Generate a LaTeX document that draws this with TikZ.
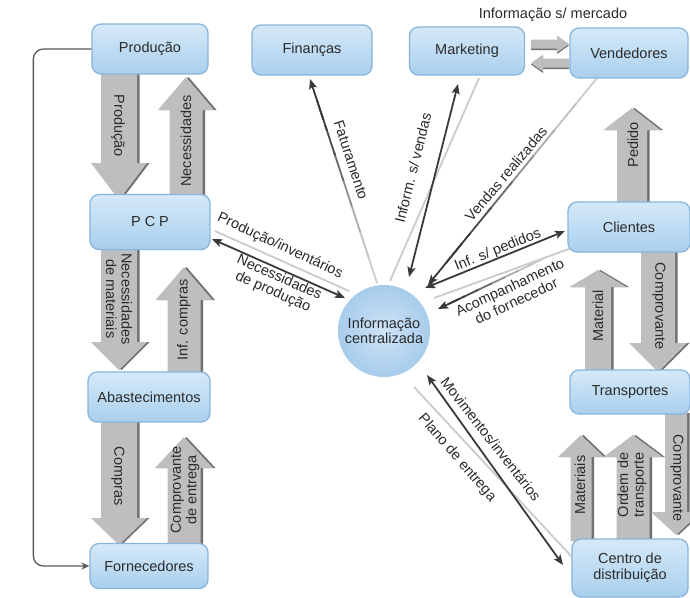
\documentclass[tikz,border=0pt]{standalone}
\usepackage{fontspec}
\setmainfont{Liberation Sans}
\usetikzlibrary{arrows.meta,calc}

\definecolor{boxtop}{HTML}{D5E9F8}
\definecolor{boxbot}{HTML}{A9CFEE}
\definecolor{boxedge}{HTML}{88B5DB}
\definecolor{circin}{HTML}{CFE4F6}
\definecolor{circout}{HTML}{A7CCEB}
\definecolor{arrfill}{HTML}{BEBEBE}
\definecolor{arrshade}{HTML}{707070}
\definecolor{linedark}{HTML}{3A3A3A}
\definecolor{linelight}{HTML}{CBCBCB}
\definecolor{txt}{HTML}{2B2B2B}

% vertical block arrow: centre x, tail y, head-base y, tip y, shaft half-width, head half-width
\newcommand\VArrow[6]{%
  \fill[arrshade] ({#1-#5+2.5},{#2}) -- ({#1-#5+2.5},{#3}) -- ({#1-#6+2.5},{#3}) -- ({#1+2.5},{#4}) --
    ({#1+#6+2.5},{#3}) -- ({#1+#5+2.5},{#3}) -- ({#1+#5+2.5},{#2}) -- cycle;
  \fill[arrfill] ({#1-#5},{#2}) -- ({#1-#5},{#3}) -- ({#1-#6},{#3}) -- ({#1},{#4}) --
    ({#1+#6},{#3}) -- ({#1+#5},{#3}) -- ({#1+#5},{#2}) -- cycle;
}
% horizontal block arrow: centre y, tail x, head-base x, tip x, shaft half-height, head half-height
\newcommand\HArrow[6]{%
  \fill[arrshade] ({#2},{#1-#5+1.5}) -- ({#3},{#1-#5+1.5}) -- ({#3},{#1-#6+1.5}) -- ({#4},{#1+1.5}) --
    ({#3},{#1+#6+1.5}) -- ({#3},{#1+#5+1.5}) -- ({#2},{#1+#5+1.5}) -- cycle;
  \fill[arrfill] ({#2},{#1-#5}) -- ({#3},{#1-#5}) -- ({#3},{#1-#6}) -- ({#4},{#1}) --
    ({#3},{#1+#6}) -- ({#3},{#1+#5}) -- ({#2},{#1+#5}) -- cycle;
}
% arrow that darkens from a pale tail to a dark head
\newcommand\FadeArrow[2]{%
  \foreach \i/\c in {0/20,1/24,2/32,3/44,4/58,5/70,6/76}{%
    \pgfmathsetmacro\fa{\i/8}%
    \pgfmathsetmacro\fb{(\i+1)/8+0.02}%
    \draw[line width=1.8pt, draw=black!\c] ($(#1)!\fa!(#2)$) -- ($(#1)!\fb!(#2)$);
  }%
  \draw[line width=1.8pt, draw=black!78, tip] ($(#1)!0.8!(#2)$) -- (#2);
}

\tikzset{
  box/.style={rounded corners=9pt, draw=boxedge, line width=1.3pt, top color=boxtop, bottom color=boxbot,
    minimum width=118pt, minimum height=50pt, align=center, text=txt},
  lbl/.style={text=txt, inner sep=1pt, align=center},
  tip/.style={-{Stealth[length=10pt,width=8pt,inset=2pt]}},
  tips/.style={{Stealth[length=10pt,width=8pt,inset=2pt]}-{Stealth[length=10pt,width=8pt,inset=2pt]}},
  darkline/.style={line width=1.8pt, draw=linedark},
  lightline/.style={line width=1.8pt, draw=linelight},
}

\begin{document}
\begin{tikzpicture}[x=1pt,y=-1pt, font=\fontsize{14.5}{15.5}\selectfont]
\useasboundingbox (0,0) rectangle (690,597);
\fill[white] (0,0) rectangle (690,597);

% end points of the radial connectors
\coordinate (fatTail) at (377,283);
\coordinate (fatHead) at (310,79);
\coordinate (mkA) at (458,84);
\coordinate (mkB) at (409,277);
\coordinate (mkL1) at (479,78);
\coordinate (mkL2) at (390,281);
\coordinate (vrTail) at (597,78);
\coordinate (vrHead) at (428,285);
\coordinate (pcA) at (212,239);
\coordinate (pcB) at (345,298);
\coordinate (pcL1) at (215,231);
\coordinate (pcL2) at (349,291);
\coordinate (clA) at (565,231);
\coordinate (clB) at (425,288);
\coordinate (clL1) at (577,246);
\coordinate (clL2) at (434,298);
\coordinate (acTail) at (545,258);
\coordinate (acHead) at (438,309);
\coordinate (cdA) at (427,375);
\coordinate (cdB) at (563,565);
\coordinate (cdL1) at (414,387);
\coordinate (cdL2) at (572,557);

% pale guide lines
\draw[lightline] (mkL1) -- (mkL2);
\draw[lightline] (pcL1) -- (pcL2);
\draw[lightline] (clL1) -- (clL2);
\draw[lightline] (cdL1) -- (cdL2);

% information flows
\FadeArrow{fatTail}{fatHead}
\FadeArrow{vrTail}{vrHead}
\FadeArrow{acTail}{acHead}
\draw[darkline, tips] (mkA) -- (mkB);
\draw[darkline, tips] (pcA) -- (pcB);
\draw[darkline, tips] (clA) -- (clB);
\draw[darkline, tips] (cdA) -- (cdB);

% material / document flows
\VArrow{119}{74}{163}{200}{18}{28}
\VArrow{186}{196}{110}{77}{16.5}{28}
\VArrow{119}{249}{342}{370}{18}{28}
\VArrow{184}{372}{300}{267}{16.5}{28.5}
\VArrow{119}{421}{518}{545}{18}{28}
\VArrow{184}{545}{468}{437}{16.5}{29}
\VArrow{632}{203}{130}{108}{15}{28.5}
\VArrow{598}{371}{287}{270}{13}{28.5}
\VArrow{658}{251}{343}{372}{17}{29}
\VArrow{581}{541}{457}{435}{10.5}{23}
\VArrow{633}{541}{457}{435}{16.5}{29.5}
\VArrow{676}{413}{512}{535}{11}{25}
\HArrow{44}{531}{557}{569}{4.5}{8.5}
\HArrow{63}{569}{543}{531}{4.5}{8.5}

% areas
\node[box, minimum width=116pt] (prod) at (150,49) {Produção};
\node[box, minimum width=120pt] (fin) at (312,50) {Finanças};
\node[box, minimum width=115pt, minimum height=48pt] (mkt) at (467,51) {Marketing};
\node[box, minimum width=118pt] (vend) at (629,53) {Vendedores};
\node[box, minimum width=120pt, minimum height=55pt] (pcp) at (150,222) {P\hspace{4pt}C\hspace{4pt}P};
\node[box, minimum width=122pt] (abast) at (149,397) {Abastecimentos};
\node[box, minimum height=45pt] (forn) at (149,566) {Fornecedores};
\node[box, minimum width=122pt] (cli) at (629,227) {Clientes};
\node[box, minimum width=120pt, minimum height=44pt] (transp) at (630,392) {Transportes};
\node[box, minimum width=116pt, minimum height=58pt] (cd) at (630,568) {Centro de\\distribuição};

\node[circle, minimum size=92pt, inner color=circin, outer color=circout, text=txt, align=center]
  (ctr) at (384,331) {Informação\\centralizada};

% production feeds the suppliers directly
\draw[line width=1.3pt, draw=black!65, rounded corners=10pt, -{Stealth[length=8pt,width=7pt]}]
  (prod.west) -- ++(-58,0) |- (forn.west);

% labels of the block arrows
\node[lbl, rotate=-90] (lProd) at (118,126) {Produção};
\node[lbl, rotate=90] (lNec) at (186,141) {Necessidades};
\node[lbl, rotate=-90] (lNecMat) at (119,299) {Necessidades\\de materiais};
\node[lbl, rotate=90] (lInfC) at (184,320) {Inf. compras};
\node[lbl, rotate=-90] (lComp) at (118,476) {Compras};
\node[lbl, rotate=90] (lCompE) at (185,490) {Comprovante\\de entrega};
\node[lbl, rotate=90] (lPed) at (633,145) {Pedido};
\node[lbl, rotate=90] (lMat) at (598,316) {Material};
\node[lbl, rotate=-90] (lCompr1) at (659,306) {Comprovante};
\node[lbl, rotate=90] (lMats) at (580,485) {Materiais};
\node[lbl, rotate=90] (lOrd) at (632,485) {Ordem de\\transporte};
\node[lbl, rotate=-90] (lCompr2) at (677,478) {Comprovante};
\node[lbl] (lMerc) at (553,15) {Informação s/ mercado};

% labels of the information flows
\node[lbl, rotate=-72] (lFat) at (351,160) {Faturamento};
\node[lbl, rotate=76] (lInf) at (413,168) {Inform. s/ vendas};
\node[lbl, rotate=50] (lVend) at (506,174) {Vendas realizadas};
\node[lbl, rotate=-25] (lProdInv) at (280,246) {Produção/inventários};
\node[lbl, rotate=-24] (lNecProd) at (276,285) {Necessidades\\de produção};
\node[lbl, rotate=22] (lPed2) at (498,250) {Inf. s/ pedidos};
\node[lbl, rotate=25] (lAcomp) at (513,294) {Acompanhamento\\do fornecedor};
\node[lbl, rotate=-52] (lMov) at (491,439) {Movimentos/inventários};
\node[lbl, rotate=-49] (lPlano) at (457,458) {Plano de entrega};
\end{tikzpicture}
\end{document}
